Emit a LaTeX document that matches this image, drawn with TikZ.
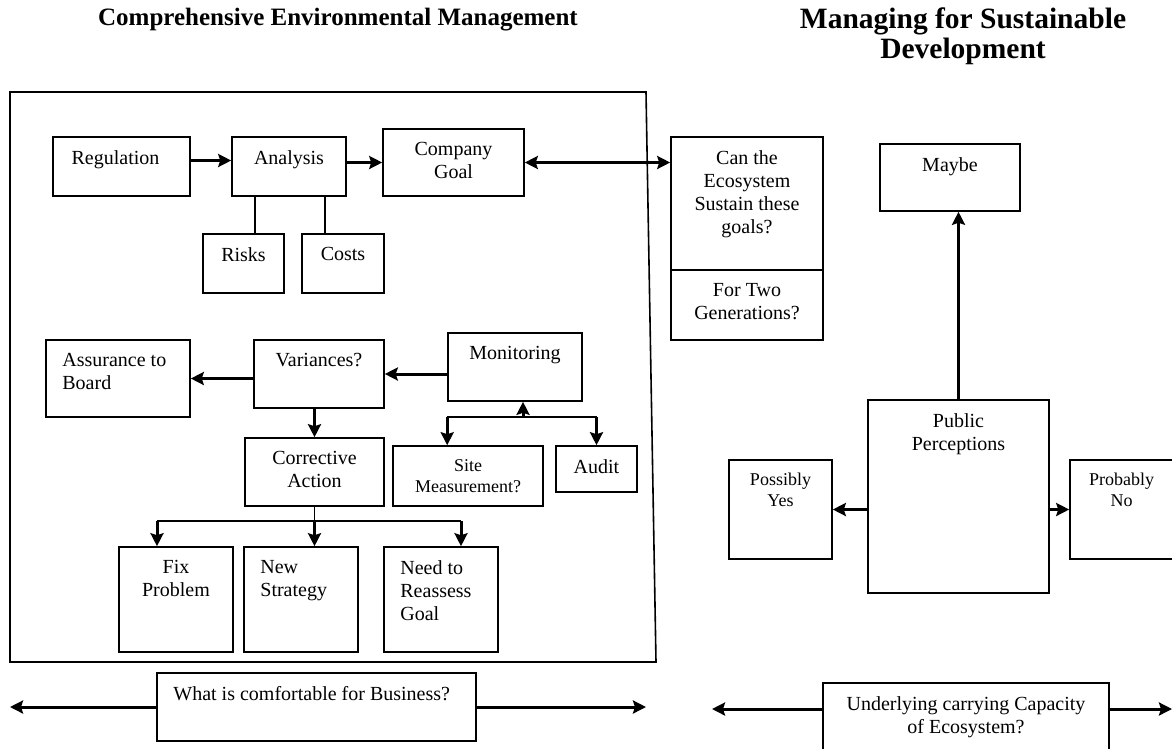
\documentclass[tikz,border=0pt]{standalone}
\usepackage{fontspec}
\setmainfont{Liberation Serif}
\usetikzlibrary{arrows.meta}
\newcommand{\boxfont}{\fontsize{20}{23}\selectfont}
\newcommand{\smallboxfont}{\fontsize{18}{21}\selectfont}
\newcommand{\headfont}{\fontsize{25}{30}\selectfont\bfseries}
\newcommand{\bigheadfont}{\fontsize{29.5}{30}\selectfont\bfseries}
\tikzset{
  box/.style 2 args={draw, line width=1.6pt, inner sep=0pt, minimum width=#1, minimum height=#2},
  lbl/.style={anchor=north, yshift=-14pt, inner sep=0pt, align=center, font=\boxfont},
  lblw/.style={anchor=north west, xshift=17pt, yshift=-14pt, inner sep=0pt, align=left, font=\boxfont},
  arr/.style={line width=3pt, ->},
  link/.style={line width=1.6pt},
  frame/.style={line width=1.6pt, line join=miter}
}
\begin{document}
\begin{tikzpicture}[x=1pt, y=-1pt, >={Stealth[length=13pt,width=13pt,inset=2pt]}]
\useasboundingbox (0,0) rectangle (1172,748);
% headings
\node[font=\headfont] (headL) at (338,20) {Comprehensive Environmental Management};
\node[font=\bigheadfont, align=center] (headR) at (963,36) {Managing for Sustainable\\Development};
% frame round the business side
\draw[frame] (10,92) -- (646,92) -- (656,662) -- (10,662) -- cycle;
% top row
\node[box={137pt}{59pt}, label={[lbl,xshift=-6pt]north:Regulation}] (reg) at (121.5,166.5) {};
\node[box={114pt}{59pt}, label={[lbl]north:Analysis}] (ana) at (289,166.5) {};
\node[box={141pt}{67pt}, label={[lbl]north:Company\\Goal}] (goal) at (453.5,162.5) {};
\node[box={81pt}{59pt}, label={[lbl]north:Risks}] (risks) at (243.5,263.5) {};
\node[box={82pt}{59pt}, label={[lbl]north:Costs}] (costs) at (343,263.5) {};
\draw[arr] ([yshift=6pt]reg.east) -- ([yshift=6pt]ana.west);
\draw[arr] (ana.east |- goal.west) -- (goal.west);
\draw[link] (ana.south -| 255,0) -- (risks.north -| 255,0);
\draw[link] (ana.south -| 325,0) -- (costs.north -| 325,0);
% monitoring loop
\node[box={144pt}{77pt}, label={[lblw]north west:Assurance to\\Board}] (ass) at (118,378.5) {};
\node[box={130pt}{68pt}, label={[lbl]north:Variances?}] (var) at (319,374) {};
\node[box={134pt}{68pt}, label={[lbl]north:Monitoring}] (mon) at (515,367) {};
\node[box={139pt}{68pt}, label={[lbl]north:Corrective\\Action}] (corr) at (314.5,472) {};
\node[box={150pt}{60pt}, label={[lbl,font=\smallboxfont]north:Site\\Measurement?}] (site) at (468,476) {};
\node[box={81pt}{46pt}, label={[lbl]north:Audit}] (aud) at (596.5,469) {};
\draw[arr] (mon.west |- var.east) -- (var.east);
\draw[arr] (var.west |- ass.east) -- (ass.east);
\draw[arr] (var.south -| corr.north) -- (corr.north);
\coordinate (mbar) at (523,417);
\draw[arr] (mbar) -- (mbar |- mon.south);
\draw[link] (mbar -| mon.west) -- (mbar -| aud.north);
\draw[arr] (mbar -| mon.west) -- (site.north -| mon.west);
\draw[arr] (mbar -| aud.north) -- (aud.north);
% what to do about it
\node[box={114pt}{105pt}, label={[lbl]north:Fix\\Problem}] (fix) at (176,599.5) {};
\node[box={114pt}{105pt}, label={[lblw]north west:New\\Strategy}] (news) at (301,599.5) {};
\node[box={114pt}{105pt}, label={[lblw]north west:Need to\\Reassess\\Goal}] (need) at (441,599.5) {};
\coordinate (cbar) at (314.5,521);
\draw[link] (corr.south) -- (cbar);
\draw[link] (cbar -| 157,0) -- (cbar -| 461,0);
\draw[arr] (cbar -| 157,0) -- (fix.north -| 157,0);
\draw[arr] (cbar) -- (cbar |- news.north);
\draw[arr] (cbar -| 461,0) -- (need.north -| 461,0);
% sustainable side
\node[box={152pt}{133pt}, label={[lbl]north:Can the\\Ecosystem\\Sustain these\\goals?}] (eco) at (747,203.5) {};
\node[box={152pt}{70pt}, label={[lbl]north:For Two\\Generations?}] (gens) at (747,305) {};
\draw[arr, <->] (goal.east) -- (goal.east -| eco.west);
\node[box={140pt}{67pt}, label={[lbl]north:Maybe}] (may) at (950,177.5) {};
\node[box={181pt}{193pt}, label={[lbl]north:Public\\Perceptions}] (pp) at (958.5,496.5) {};
\node[box={103pt}{99pt}, label={[lbl,font=\smallboxfont]north:Possibly\\Yes}] (pos) at (780.5,509.5) {};
\node[box={103pt}{99pt}, label={[lbl,font=\smallboxfont]north:Probably\\No}] (prob) at (1121.5,509.5) {};
\draw[arr] (pp.north) -- (pp.north |- may.south);
\draw[arr] (pp.west |- pos.east) -- (pos.east);
\draw[arr] (pp.east |- prob.west) -- (prob.west);
% bottom scales
\node[box={319pt}{68pt}, label={[lblw]north west:What is comfortable for Business?}] (biz) at (316.5,707) {};
\coordinate (bizL) at (10,707);
\coordinate (bizR) at (646,707);
\draw[arr] (biz.west) -- (bizL);
\draw[arr] (biz.east) -- (bizR);
\node[box={286pt}{87pt}, label={[lbl]north:Underlying carrying Capacity\\of Ecosystem?}] (cap) at (966,726.5) {};
\coordinate (capL) at (712,709);
\coordinate (capR) at (1172,709);
\draw[arr] (cap.west |- capL) -- (capL);
\draw[arr] (cap.east |- capR) -- (capR);
\end{tikzpicture}
\end{document}
